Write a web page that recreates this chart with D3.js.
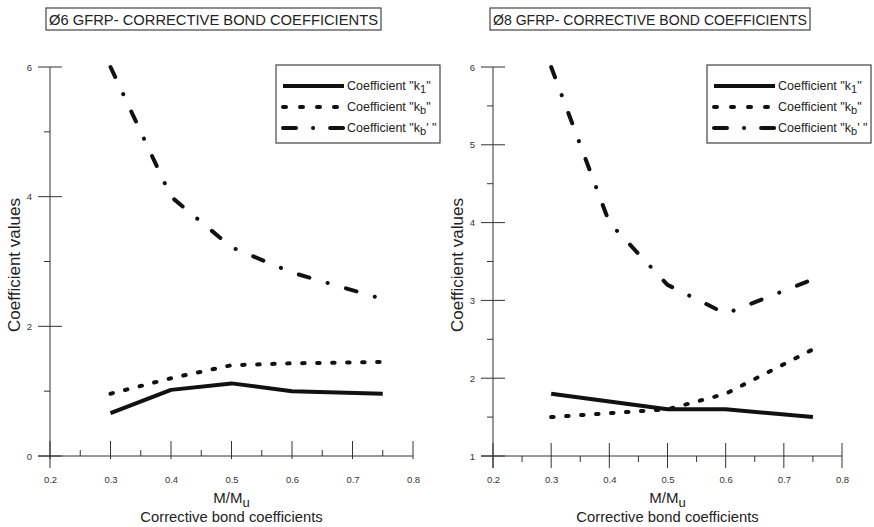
<!DOCTYPE html>
<html>
<head>
<meta charset="utf-8">
<script src="https://cdn.jsdelivr.net/npm/d3@7"></script>
<style>
  body { margin: 0; background: #fff; }
  svg { display: block; font-family: "Liberation Sans", Arial, sans-serif; }
</style>
</head>
<body>
<svg id="chart" width="874" height="527"></svg>
<script>
// M/Mu ratios where coefficients were computed
var mRatio = [0.3, 0.4, 0.5, 0.6, 0.75];

// Ø6 bars
var k1Phi6  = [0.66, 1.02, 1.12, 1.0, 0.96];
var kbPhi6  = [0.96, 1.2, 1.4, 1.43, 1.45];
var kbpPhi6 = [6.0, 4.0, 3.22, 2.83, 2.42];

// Ø8 bars
var k1Phi8  = [1.8, 1.7, 1.6, 1.6, 1.5];
var kbPhi8  = [1.5, 1.55, 1.6, 1.8, 2.37];
var kbpPhi8 = [6.0, 4.0, 3.2, 2.83, 3.27];

var xTicks = [0.2, 0.3, 0.4, 0.5, 0.6, 0.7, 0.8];
var xMinor = [0.25, 0.35, 0.45, 0.55, 0.65, 0.75];

var seriesStyles = [
    { key: 'k1',  sub: '1', tail: '"',   dash: null },
    { key: 'kb',  sub: 'b', tail: '"',   dash: '2.5,12.5' },
    { key: 'kbp', sub: 'b', tail: '\' "', dash: '11,19,0.1,19' }
];

var svg = d3.select('#chart');

function drawPanel(cfg) {
    var g = svg.append('g');
    var x = d3.scaleLinear().domain([0.2, 0.8]).range(cfg.xRange);
    var y = d3.scaleLinear().domain(cfg.yDomain).range(cfg.yRange);

    // title box
    var tb = g.append('g');
    tb.append('rect')
        .attr('x', cfg.titleBox[0]).attr('y', 8)
        .attr('width', cfg.titleBox[1] - cfg.titleBox[0]).attr('height', 22)
        .attr('fill', 'none').attr('stroke', '#444').attr('stroke-width', 1.2);
    tb.append('text')
        .attr('x', (cfg.titleBox[0] + cfg.titleBox[1]) / 2).attr('y', 25)
        .attr('text-anchor', 'middle')
        .attr('font-size', 15)
        .attr('textLength', cfg.titleBox[1] - cfg.titleBox[0] - 6)
        .attr('lengthAdjust', 'spacingAndGlyphs')
        .attr('fill', '#222')
        .text(cfg.title);

    // axes lines
    var axisColor = '#333';
    g.append('line')
        .attr('x1', x(0.2) - 12).attr('x2', x(0.8))
        .attr('y1', y(cfg.yDomain[0])).attr('y2', y(cfg.yDomain[0]))
        .attr('stroke', axisColor);
    g.append('line')
        .attr('x1', x(0.2)).attr('x2', x(0.2))
        .attr('y1', y(cfg.yDomain[1])).attr('y2', y(cfg.yDomain[0]) + 12)
        .attr('stroke', axisColor);

    // y ticks
    g.selectAll('.ymaj').data(cfg.yTicks).enter().append('line')
        .attr('x1', x(0.2) - 12).attr('x2', x(0.2) + 12)
        .attr('y1', function(d) { return y(d); }).attr('y2', function(d) { return y(d); })
        .attr('stroke', axisColor);
    g.selectAll('.ymin').data(cfg.yMinor).enter().append('line')
        .attr('x1', x(0.2) - 6).attr('x2', x(0.2))
        .attr('y1', function(d) { return y(d); }).attr('y2', function(d) { return y(d); })
        .attr('stroke', axisColor);

    // x ticks
    g.selectAll('.xmaj').data(xTicks).enter().append('line')
        .attr('x1', function(d) { return x(d); }).attr('x2', function(d) { return x(d); })
        .attr('y1', y(cfg.yDomain[0]) - cfg.xTickUp).attr('y2', y(cfg.yDomain[0]) + cfg.xTickDown)
        .attr('stroke', axisColor);
    g.selectAll('.xmin').data(xMinor).enter().append('line')
        .attr('x1', function(d) { return x(d); }).attr('x2', function(d) { return x(d); })
        .attr('y1', y(cfg.yDomain[0]) + cfg.xMinorDir * 6).attr('y2', y(cfg.yDomain[0]))
        .attr('stroke', axisColor);

    // tick labels via d3 axes
    var xAxis = d3.axisBottom(x).tickValues(xTicks).tickSize(0).tickPadding(20)
        .tickFormat(d3.format('.1f'));
    var xa = g.append('g').attr('transform', 'translate(0,' + y(cfg.yDomain[0]) + ')').call(xAxis);
    xa.select('.domain').remove();
    xa.selectAll('text').attr('font-size', 9.5).attr('fill', '#333').attr('font-family', null);

    var yAxis = d3.axisLeft(y).tickValues(cfg.yTicks).tickSize(0).tickPadding(18)
        .tickFormat(d3.format('d'));
    var ya = g.append('g').attr('transform', 'translate(' + x(0.2) + ',0)').call(yAxis);
    ya.select('.domain').remove();
    ya.selectAll('text').attr('font-size', 9.5).attr('fill', '#333').attr('font-family', null);

    // axis titles
    var midX = (cfg.xRange[0] + cfg.xRange[1]) / 2;
    var mm = g.append('text')
        .attr('x', midX).attr('y', 503)
        .attr('text-anchor', 'middle').attr('font-size', 15).attr('fill', '#222');
    mm.append('tspan').text('M/M');
    mm.append('tspan').attr('dy', 4).attr('font-size', 13).text('u');
    g.append('text')
        .attr('x', midX).attr('y', 522)
        .attr('text-anchor', 'middle').attr('font-size', 14.8).attr('fill', '#222')
        .text('Corrective bond coefficients');
    g.append('text')
        .attr('transform', 'translate(' + cfg.yTitleX + ',265) rotate(-90)')
        .attr('text-anchor', 'middle').attr('font-size', 17).attr('fill', '#222')
        .text('Coefficient values');

    // series
    var line = d3.line()
        .x(function(d) { return x(d[0]); })
        .y(function(d) { return y(d[1]); });
    cfg.series.forEach(function(vals, i) {
        var st = seriesStyles[i];
        g.append('path')
            .datum(mRatio.map(function(m, j) { return [m, vals[j]]; }))
            .attr('d', line)
            .attr('fill', 'none')
            .attr('stroke', '#111')
            .attr('stroke-width', 4)
            .attr('stroke-linecap', st.dash ? 'round' : 'butt')
            .attr('stroke-linejoin', 'round')
            .attr('stroke-dasharray', st.dash);
    });

    // legend
    var lg = g.append('g');
    var lx = cfg.legendX;
    lg.append('rect')
        .attr('x', lx).attr('y', 65).attr('width', 164).attr('height', 78)
        .attr('fill', '#fff').attr('stroke', '#444').attr('stroke-width', 1.2);
    seriesStyles.forEach(function(st, i) {
        var ry = 86 + i * 21;
        lg.append('line')
            .attr('x1', lx + 7).attr('x2', lx + 68)
            .attr('y1', ry).attr('y2', ry)
            .attr('stroke', '#111').attr('stroke-width', 4)
            .attr('stroke-linecap', st.dash ? 'round' : 'butt')
            .attr('stroke-dasharray', st.dash ? (i === 1 ? '3,14' : '13,17,0.1,17') : null);
        var t = lg.append('text')
            .attr('x', lx + 71).attr('y', ry + 4)
            .attr('font-size', 12.5).attr('fill', '#222');
        t.append('tspan').text('Coefficient "k');
        t.append('tspan').attr('dy', 3).attr('font-size', 11).text(st.sub);
        t.append('tspan').attr('dy', -3).text(st.tail);
    });
}

drawPanel({
    title: 'Ø6 GFRP- CORRECTIVE BOND COEFFICIENTS',
    titleBox: [46, 381],
    xRange: [50, 413],
    yDomain: [0, 6],
    yRange: [456, 67],
    yTicks: [0, 2, 4, 6],
    yMinor: [1, 3, 5],
    xTickUp: 15, xTickDown: 3, xMinorDir: -1,
    yTitleX: 20,
    legendX: 276,
    series: [k1Phi6, kbPhi6, kbpPhi6]
});

drawPanel({
    title: 'Ø8 GFRP- CORRECTIVE BOND COEFFICIENTS',
    titleBox: [490, 810],
    xRange: [493, 842],
    yDomain: [1, 6],
    yRange: [456, 67],
    yTicks: [1, 2, 3, 4, 5, 6],
    yMinor: [1.5, 2.5, 3.5, 4.5, 5.5],
    xTickUp: 13, xTickDown: 12, xMinorDir: 1,
    yTitleX: 463,
    legendX: 707,
    series: [k1Phi8, kbPhi8, kbpPhi8]
});
</script>
</body>
</html>
